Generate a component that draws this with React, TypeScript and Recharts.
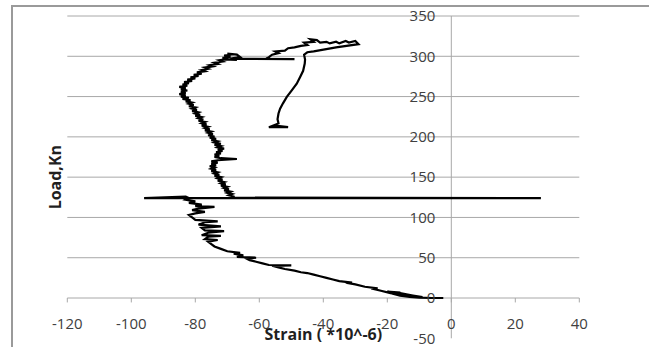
import {
  LineChart,
  Line,
  XAxis,
  YAxis,
  CartesianGrid,
  ReferenceLine,
  ReferenceDot,
} from "recharts";

// strain gauge reading (x) against applied load (y), in recording order
const strain = [
  // loading up to the jump near 125 kN
  -2.5, -6, -10, -13, -16, -18, -17, -20, -16, -12, -9, -12, -15, -19, -22, -25, -23, -27, -30, -33,
  -31, -35, -37, -39, -41, -43, -45, -47, -49, -52, -54, -56, -50, -57, -59, -61, -63, -64, -61, -67,
  -65, -68, -66, -70, -72, -74, -75, -76, -73, -77, -76, -72, -78, -76, -71, -77, -78, -72, -79, -77,
  -73, -80, -81, -82, -80, -77, -81, -79, -74, -80, -78, -82, -80, -83, -82, -83,
  -96, 28, -68,
  // 125 -> 300 kN
  -68, -69.5, -68.5, -70, -69, -71, -69.5, -71, -70, -72,
  -70.5, -72, -71, -73, -71.5, -73, -72, -74, -72.5, -74,
  -73, -75, -73.5, -75, -74, -75.5, -73.5, -75, -73, -75,
  -73, -67, -72, -74, -72.5, -74, -72, -73.5, -71.5, -73,
  -71, -73, -72, -74, -72, -74, -73, -75, -73.5, -75.5,
  -74, -76, -74.5, -76, -75, -77, -75.5, -77, -76, -78,
  -76.5, -78, -77, -79, -77.5, -79, -78, -80, -78.5, -80,
  -79, -81, -79.5, -81, -80, -82, -80.5, -82, -81, -83,
  -81.5, -84, -82, -84.5, -83, -85, -83, -84.5, -82.5, -84.5,
  -83, -85, -82.5, -84, -82, -83.5, -81, -82.5, -80, -81.5,
  -79, -80.5, -78, -79.5, -77, -78, -76, -77, -74.5, -75.5,
  -73, -74, -71.5, -72.5, -70, -71.5, -69, -71, -68, -70,
  -67, -66, -69, -67, -71, -66, -49, -58,
  // top loop
  -57, -56, -54, -55, -52, -51, -49, -47, -45, -46, -43, -44, -42, -41, -39, -38, -36, -35, -33, -32,
  -30, -29, -36, -43, -45,
  // unloading
  -46, -45.7, -45.8, -46.3, -47.2, -48.3, -49.8, -51.4, -52.6, -53.5, -54, -54.3, -54, -57, -51, -55,
];
const load = [
  0, 0, 0.5, 1.5, 3, 5, 7, 8, 6, 3, 1, 2, 4, 6, 9, 12, 12, 14, 17, 19,
  19, 21, 23, 25, 27, 29, 31, 32, 34, 36, 38, 40, 40.5, 41, 43, 45, 47, 49, 50, 51,
  53, 55, 56, 58, 61, 64, 67, 70, 72, 73, 76, 77, 78, 81, 83, 84, 87, 89, 91, 94,
  95, 97, 100, 103, 105, 107, 109, 111, 113, 114, 116, 118, 120, 122, 124, 126,
  124, 124, 124.5,
  126, 127.5, 129, 130.5, 132, 133.5, 135, 136.5, 138, 139.5,
  141, 142.5, 144, 145.5, 147, 148.5, 150, 151.5, 153, 154.5,
  156, 157.5, 159, 160.5, 162, 163.5, 165, 166.5, 168, 169.5,
  171, 172.5, 173.5, 175, 176.5, 178, 179.5, 181, 182.5, 184,
  185.5, 187, 188.5, 190, 191.5, 193, 194.5, 196, 197.5, 199,
  200.5, 202, 203.5, 205, 206.5, 208, 209.5, 211, 212.5, 214,
  215.5, 217, 218.5, 220, 221.5, 223, 224.5, 226, 227.5, 229,
  230.5, 232, 233.5, 235, 236.5, 238, 239.5, 241, 242.5, 244,
  245.5, 247, 248.5, 250, 251.5, 253, 254.5, 256, 257.5, 259,
  260.5, 262, 263.5, 265, 266.5, 268, 269.5, 271, 272.5, 274,
  275.5, 277, 278.5, 280, 281.5, 283, 284.5, 286, 287.5, 289,
  290.5, 292, 293.5, 295, 296.5, 298, 299.5, 301, 302.5, 303.5,
  302, 299, 297, 295.5, 296, 297, 296.5, 296.5,
  299, 302, 304, 306, 307, 310, 311, 313, 314, 317, 318, 321, 320, 317, 318, 316, 318, 316, 319, 317,
  319, 315, 311, 306, 305,
  302, 296, 291, 282, 274.6, 266, 258, 249.6, 241.6, 235, 229, 222, 216.7, 212, 212, 214,
];

const xTicks = [-120, -100, -80, -60, -40, -20, 0, 20, 40];
const yTicks = [-50, 0, 50, 100, 150, 200, 250, 300, 350];

const data = strain.map((s, i) => ({ strain: s, load: load[i] }));

const tickStyle = {
  fontFamily: "'Open Sans', sans-serif",
  fontSize: 15,
  fill: "#404040",
};
const titleStyle = {
  fontFamily: "'Open Sans', sans-serif",
  fontSize: 16,
  fontWeight: "bold",
  fill: "#1f1f1f",
};

export default function App() {
  return (
    <div
      style={{
        position: "absolute",
        left: 0,
        top: 0,
        width: 649,
        height: 347,
        overflow: "hidden",
        background: "#fff",
      }}
    >
      {/* chart-area frame, only top and left edges visible */}
      <div
        style={{
          position: "absolute",
          left: 11,
          top: 5,
          width: 700,
          height: 400,
          borderTop: "2px solid #9a9a9a",
          borderLeft: "2px solid #9a9a9a",
        }}
      />
      <div style={{ position: "absolute", left: 0, top: 0 }}>
        <LineChart
          width={649}
          height={347}
          data={data}
          margin={{ top: 16, right: 69.7, bottom: 8.7, left: 67.3 }}
        >
          <XAxis
            type="number"
            dataKey="strain"
            domain={[-120, 40]}
            ticks={xTicks}
            hide
          />
          <YAxis type="number" domain={[-50, 350]} ticks={yTicks} hide />
          <CartesianGrid
            vertical={false}
            horizontalValues={yTicks}
            stroke="#a8a8a8"
            strokeDasharray=""
          />
          {/* vertical axis crossing at strain = 0 */}
          <ReferenceLine x={0} stroke="#a8a8a8" />
          {/* tick marks hanging below the load = 0 line */}
          {xTicks.map((t) => (
            <ReferenceLine
              key={`xt${t}`}
              segment={[
                { x: t, y: 0 },
                { x: t, y: -5.5 },
              ]}
              stroke="#a8a8a8"
            />
          ))}
          <Line
            type="linear"
            dataKey="load"
            stroke="#000"
            strokeWidth={2.2}
            dot={false}
            activeDot={false}
            isAnimationActive={false}
          />
          {yTicks.map((t) => (
            <ReferenceDot
              key={`yl${t}`}
              x={0}
              y={t}
              r={0}
              fill="none"
              stroke="none"
              label={{ value: String(t), position: "left", offset: 16, ...tickStyle }}
            />
          ))}
          {xTicks.map((t) => (
            <ReferenceDot
              key={`xl${t}`}
              x={t}
              y={0}
              r={0}
              fill="none"
              stroke="none"
              label={{ value: String(t), position: "bottom", offset: 20, ...tickStyle }}
            />
          ))}
          <ReferenceDot
            x={-40}
            y={-44.5}
            r={0}
            fill="none"
            stroke="none"
            label={{ value: "Strain ( *10^-6)", position: "center", ...titleStyle }}
          />
          <ReferenceDot
            x={-123.75}
            y={150}
            r={0}
            fill="none"
            stroke="none"
            ifOverflow="visible"
            label={{ value: "Load,Kn", position: "center", angle: -90, ...titleStyle }}
          />
        </LineChart>
      </div>
    </div>
  );
}
